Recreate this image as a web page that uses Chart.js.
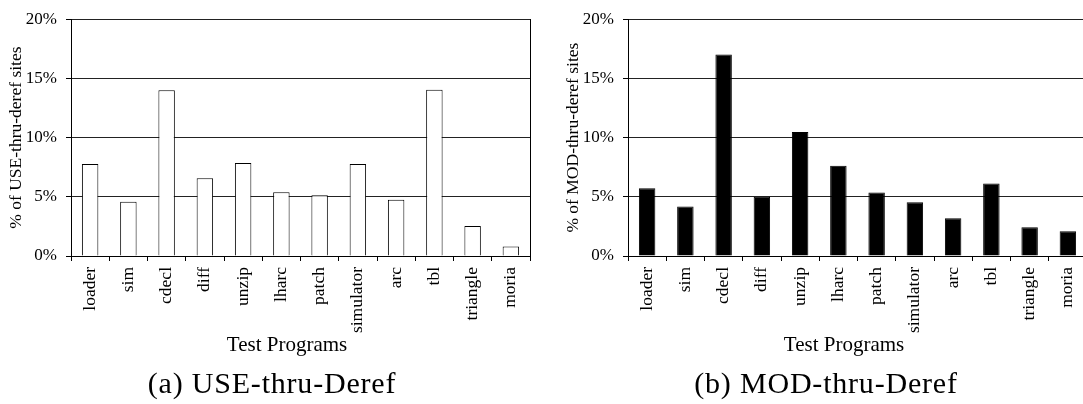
<!DOCTYPE html>
<html>
<head>
<meta charset="utf-8">
<script src="https://cdn.jsdelivr.net/npm/chart.js@4/dist/chart.umd.min.js"></script>
<style>
  html, body { margin: 0; padding: 0; background: #fff; width: 1083px; height: 404px; overflow: hidden; }
  .panel { position: absolute; top: 0; width: 557px; height: 340px; }
  .axis-title, .caption {
    position: absolute; white-space: nowrap; color: #000;
    font-family: "Liberation Serif", "Times New Roman", serif;
    transform: translateX(-50%);
  }
  .axis-title { font-size: 21px; line-height: 21px; top: 334px; }
  .caption { font-size: 30px; line-height: 30px; top: 368px; letter-spacing: 0.8px; }
</style>
</head>
<body>
<div class="panel" style="left:0px"><canvas id="useChart" width="557" height="340"></canvas></div>
<div class="panel" style="left:557px"><canvas id="modChart" width="557" height="340"></canvas></div>
<div class="axis-title" style="left:287px">Test Programs</div>
<div class="axis-title" style="left:844px">Test Programs</div>
<div class="caption" style="left:272px">(a) USE-thru-Deref</div>
<div class="caption" style="left:826px">(b) MOD-thru-Deref</div>
<script>
// Benchmark programs on the x axis
const programs = ['loader', 'sim', 'cdecl', 'diff', 'unzip', 'lharc', 'patch',
                  'simulator', 'arc', 'tbl', 'triangle', 'moria'];

// Percentage of dereference sites per program
const useThruDeref = [7.77, 4.58, 13.99, 6.56, 7.85, 5.39, 5.14, 7.77, 4.75, 14.05, 2.54, 0.81];
const modThruDeref = [5.73, 4.19, 17.01, 5.00, 10.47, 7.63, 5.36, 4.55, 3.18, 6.12, 2.43, 2.09];

// Percent axis range
const percentMin = 0;
const percentMax = 20;
const percentStep = 5;

const serif = '"Liberation Serif", "Times New Roman", serif';

function makeChart(canvasId, values, fill, yTitle) {
  return new Chart(document.getElementById(canvasId), {
    type: 'bar',
    data: {
      labels: programs,
      datasets: [{
        data: values,
        backgroundColor: fill,
        borderColor: '#000',
        borderWidth: 1,
        barPercentage: 0.43,
        categoryPercentage: 1.0
      }]
    },
    options: {
      responsive: false,
      animation: false,
      devicePixelRatio: 1,
      layout: { padding: { top: 10, right: 27, left: 0, bottom: 0 } },
      plugins: { legend: { display: false }, tooltip: { enabled: false } },
      scales: {
        x: {
          type: 'category',
          offset: true,
          grid: {
            offset: true,
            drawOnChartArea: false,
            drawTicks: true,
            tickLength: 5,
            color: '#000',
            lineWidth: 1
          },
          border: { display: true, color: '#000', width: 1 },
          ticks: {
            autoSkip: false,
            minRotation: 90,
            maxRotation: 90,
            padding: 6,
            color: '#000',
            font: { family: serif, size: 17.5 }
          },
          // leave room for the longest rotated label
          afterFit: (scale) => { scale.height = 84; }
        },
        y: {
          min: percentMin,
          max: percentMax,
          grid: {
            color: '#222',
            lineWidth: 1,
            drawTicks: true,
            tickLength: 5,
            tickColor: '#000'
          },
          border: { display: true, color: '#000', width: 1 },
          ticks: {
            stepSize: percentStep,
            padding: 9,
            color: '#000',
            font: { family: serif, size: 17 },
            callback: (v) => v + '%'
          },
          title: {
            display: true,
            text: yTitle,
            color: '#000',
            font: { family: serif, size: 17.5 },
            padding: { top: 6, bottom: 0 }
          },
          afterFit: (scale) => { scale.width = 71; }
        },
        frame: {
          position: 'right',
          min: percentMin,
          max: percentMax,
          grid: { display: false, drawTicks: false },
          border: { display: true, color: '#000', width: 1 },
          ticks: { display: false },
          afterFit: (scale) => { scale.width = 0; }
        }
      }
    }
  });
}

makeChart('useChart', useThruDeref, '#fff', '% of USE-thru-deref sites');
makeChart('modChart', modThruDeref, '#000', '% of MOD-thru-deref sites');
</script>
</body>
</html>
